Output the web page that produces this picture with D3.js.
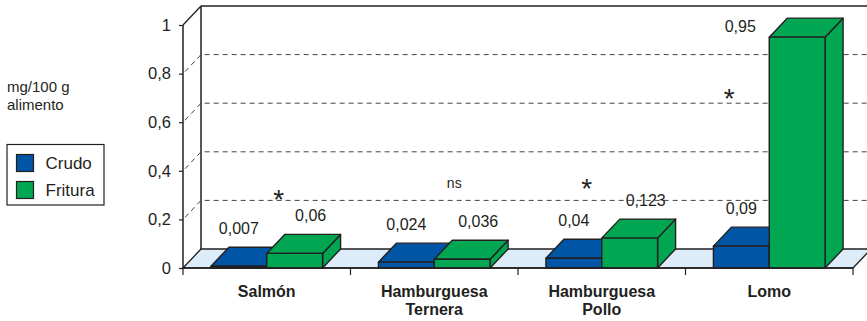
<!DOCTYPE html>
<html lang="es">
  <head>
    <meta charset="utf-8">
    <title>mg/100 g alimento</title>
    <script src="https://cdn.jsdelivr.net/npm/d3@7"></script>
    <style>
      body { margin: 0; background: #fff; }
      svg { display: block; font-family: 'Liberation Sans', Arial, sans-serif; }
    </style>
  </head>
  <body>
    <svg width="867" height="321" id="mainsvg"></svg>
    <script>
      // datos
      const categories = ['Salmón', 'Hamburguesa Ternera', 'Hamburguesa Pollo', 'Lomo'];
      const series = ['Crudo', 'Fritura'];
      const crudo = [0.007, 0.024, 0.04, 0.09];
      const fritura = [0.06, 0.036, 0.123, 0.95];
      const significance = ['*', 'ns', '*', '*'];
      const yTicks = [0, 0.2, 0.4, 0.6, 0.8, 1];
      const yTickLabels = ['0', '0,2', '0,4', '0,6', '0,8', '1'];
      const yUnit = ['mg/100 g', 'alimento'];

      const colors = { 'Crudo': '#0055a5', 'Fritura': '#00a651' };
      const ink = '#231f20';
      const floorFill = '#dcedf9';

      const svg = d3.select('#mainsvg');
      const width = +svg.attr('width');
      const plot = { left: 183, right: 853, top: 25, bottom: 268 };
      const depth = { dx: 18, dy: -19 };

      const xScale = d3.scaleBand()
        .domain(categories)
        .range([plot.left, plot.right]);
      const xSeries = d3.scaleBand()
        .domain(series)
        .range([0, xScale.bandwidth()])
        .paddingOuter(0.5);
      const yScale = d3.scaleLinear()
        .domain([0, 1])
        .range([plot.bottom, plot.top]);

      const g = svg.append('g').attr('id', 'maingroup');

      // suelo
      const fx = plot.left, bx = plot.left + depth.dx;
      const fy = plot.bottom, by = plot.bottom + depth.dy;
      g.append('path')
        .attr('d', `M${fx},${fy}L${bx},${by}L${plot.right + depth.dx},${by}L${plot.right},${fy}Z`)
        .attr('fill', floorFill)
        .attr('stroke', ink).attr('stroke-width', 1.3);

      // pared del fondo
      const topBack = yScale(1) + depth.dy;
      g.append('line').attr('x1', bx).attr('y1', by).attr('x2', bx).attr('y2', topBack)
        .attr('stroke', ink).attr('stroke-width', 1.5);
      g.append('line').attr('x1', bx).attr('y1', topBack).attr('x2', width).attr('y2', topBack)
        .attr('stroke', ink).attr('stroke-width', 1.5);
      g.append('line').attr('x1', fx).attr('y1', yScale(1)).attr('x2', bx).attr('y2', topBack)
        .attr('stroke', ink).attr('stroke-width', 1.3);

      // rejilla discontinua
      const grid = yTicks.filter(d => d > 0 && d < 1);
      g.selectAll('.grid').data(grid).enter().append('path')
        .attr('class', 'grid')
        .attr('d', d => `M${fx + 2},${yScale(d) - 2}L${bx},${yScale(d) + depth.dy}L${width},${yScale(d) + depth.dy}`)
        .attr('fill', 'none')
        .attr('stroke', '#444')
        .attr('stroke-width', 1)
        .attr('stroke-dasharray', '5,4');

      // barras 3D
      const bars = [];
      categories.forEach((c, i) => {
        bars.push({ cat: c, s: 'Crudo', v: crudo[i] });
        bars.push({ cat: c, s: 'Fritura', v: fritura[i] });
      });
      const barG = g.selectAll('.bar').data(bars).enter().append('g').attr('class', 'bar');
      const x0 = d => xScale(d.cat) + xSeries(d.s);
      const x1 = d => x0(d) + xSeries.bandwidth();
      barG.append('path')
        .attr('d', d => `M${x1(d)},${yScale(d.v)}L${x1(d) + depth.dx},${yScale(d.v) + depth.dy}L${x1(d) + depth.dx},${fy + depth.dy}L${x1(d)},${fy}Z`)
        .attr('fill', d => colors[d.s]);
      barG.append('path')
        .attr('d', d => `M${x0(d)},${yScale(d.v)}L${x0(d) + depth.dx},${yScale(d.v) + depth.dy}L${x1(d) + depth.dx},${yScale(d.v) + depth.dy}L${x1(d)},${yScale(d.v)}Z`)
        .attr('fill', d => colors[d.s]);
      barG.append('rect')
        .attr('x', x0)
        .attr('y', d => yScale(d.v))
        .attr('width', xSeries.bandwidth())
        .attr('height', d => fy - yScale(d.v))
        .attr('fill', d => colors[d.s]);
      barG.selectAll('path, rect')
        .attr('stroke', ink)
        .attr('stroke-width', 1.4)
        .attr('stroke-linejoin', 'round');

      // eje y
      g.append('line').attr('x1', fx).attr('y1', fy).attr('x2', fx).attr('y2', yScale(1))
        .attr('stroke', ink).attr('stroke-width', 1.5);
      const yAxis = d3.axisLeft(yScale)
        .tickValues(yTicks)
        .tickFormat((d, i) => yTickLabels[i])
        .tickSize(4)
        .tickPadding(8);
      const yAxisGroup = g.append('g').attr('transform', `translate(${fx},0)`).call(yAxis);
      yAxisGroup.select('.domain').remove();
      yAxisGroup.selectAll('.tick line').attr('stroke', ink).attr('stroke-width', 1.2);
      yAxisGroup.selectAll('.tick text')
        .attr('font-family', "'Liberation Sans', Arial, sans-serif")
        .attr('font-size', 16.5).attr('fill', ink);

      // eje x
      g.append('line').attr('x1', fx).attr('y1', fy).attr('x2', plot.right).attr('y2', fy)
        .attr('stroke', ink).attr('stroke-width', 1.5);
      const bounds = categories.map(c => xScale(c)).concat([plot.right]);
      g.selectAll('.xtick').data(bounds).enter().append('line')
        .attr('x1', d => d).attr('x2', d => d)
        .attr('y1', fy).attr('y2', fy + 7)
        .attr('stroke', ink).attr('stroke-width', 1.2);
      const catText = g.selectAll('.cat').data(categories).enter().append('text')
        .attr('class', 'cat')
        .attr('x', d => xScale(d) + xScale.bandwidth() / 2)
        .attr('y', 296.5)
        .attr('text-anchor', 'middle')
        .attr('font-size', 16)
        .attr('font-weight', 'bold')
        .attr('fill', ink);
      catText.selectAll('tspan').data(d => d.split(' ')).enter().append('tspan')
        .attr('x', function () { return this.parentNode.getAttribute('x'); })
        .attr('dy', (d, i) => i === 0 ? 0 : 18)
        .text(d => d);

      // etiquetas de valor
      g.selectAll('.vlabel').data(bars).enter().append('text')
        .attr('class', 'vlabel')
        .attr('x', d => {
          const c = (x0(d) + x1(d)) / 2;
          if (d.v > 0.85) return x0(d) - 29;
          return d.s === 'Fritura' ? c + 16 : c;
        })
        .attr('y', d => d.v > 0.85 ? yScale(d.v) - 5 : yScale(d.v) + depth.dy - 13)
        .attr('text-anchor', 'middle')
        .attr('font-size', 16)
        .attr('fill', ink)
        .text(d => String(d.v).replace('.', ','));

      // significación (colocada a mano como en el original)
      const sigPlace = [{ dx: 12, v: 0.31 }, { dx: 20, v: 0.345 }, { dx: -15, v: 0.355 }, { dx: -40, v: 0.725 }];
      g.selectAll('.sig').data(significance).enter().append('text')
        .attr('class', 'sig')
        .attr('x', (d, i) => xScale(categories[i]) + xScale.bandwidth() / 2 + sigPlace[i].dx)
        .attr('y', (d, i) => yScale(sigPlace[i].v) + (d === '*' ? 16 : 4))
        .attr('text-anchor', 'middle')
        .attr('font-size', d => d === '*' ? 28 : 14)
        .attr('fill', ink)
        .text(d => d);

      // unidad
      svg.append('text')
        .attr('x', 7).attr('y', 92)
        .attr('font-size', 15).attr('fill', ink)
        .selectAll('tspan').data(yUnit).enter().append('tspan')
        .attr('x', 7).attr('dy', (d, i) => i === 0 ? 0 : 18)
        .text(d => d);

      // leyenda
      const legend = svg.append('g').attr('transform', 'translate(7,144.5)');
      legend.append('rect')
        .attr('width', 97).attr('height', 60.5)
        .attr('fill', '#fff').attr('stroke', ink).attr('stroke-width', 1.2);
      const item = legend.selectAll('.legend').data(series).enter().append('g')
        .attr('class', 'legend')
        .attr('transform', (d, i) => `translate(9.5, ${10 + i * 27})`);
      item.append('rect')
        .attr('width', 17).attr('height', 17)
        .attr('fill', d => colors[d])
        .attr('stroke', ink).attr('stroke-width', 1.2);
      item.append('text')
        .attr('x', 29).attr('y', 14.5)
        .attr('font-size', 17).attr('fill', ink)
        .text(d => d);
    </script>
  </body>
</html>
